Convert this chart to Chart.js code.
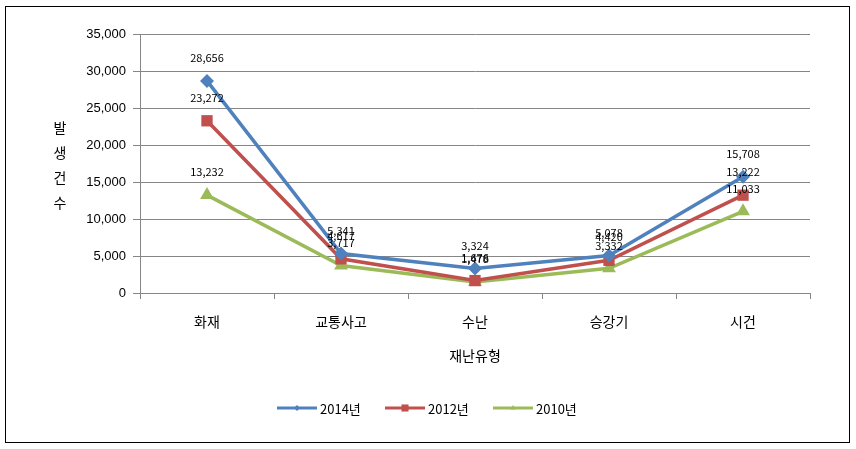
<!DOCTYPE html>
<html lang="ko">
<head>
<meta charset="UTF-8">
<title>재난유형별 발생건수</title>
<script src="https://cdn.jsdelivr.net/npm/chart.js"></script>
<style>
  body { margin: 0; background: #fff; }
  #wrap { position: relative; width: 856px; height: 449px; }
</style>
</head>
<body>
<div id="wrap"><canvas id="disasterChart" width="856" height="449"></canvas></div>
<script>
// categories and series values
const categories = ['화재', '교통사고', '수난', '승강기', '시건'];
const seriesLabels = ['2014년', '2012년', '2010년'];
const values2014 = [28656, 5341, 3324, 5078, 15708];
const values2012 = [23272, 4617, 1676, 4420, 13222];
const values2010 = [13232, 3717, 1478, 3332, 11033];
const yTicks = [0, 5000, 10000, 15000, 20000, 25000, 30000, 35000];
const xTitle = '재난유형';
const yTitle = ['발', '생', '건', '수'];

const KR = '"Noto Sans CJK KR", "Noto Sans", sans-serif';
const fmt = v => v.toLocaleString('en-US');

// frame, axis titles, data labels and the legend drawn on the canvas
const extras = {
  id: 'extras',
  beforeDraw(chart) {
    const ctx = chart.ctx;
    ctx.save();
    ctx.fillStyle = '#fff';
    ctx.fillRect(0, 0, chart.width, chart.height);
    ctx.strokeStyle = '#000';
    ctx.lineWidth = 1;
    ctx.strokeRect(5.5, 6.5, 844, 436);
    ctx.restore();
  },
  afterDatasetsDraw(chart) {
    const ctx = chart.ctx;
    const area = chart.chartArea;
    ctx.save();
    ctx.fillStyle = '#000';
    // data labels
    ctx.font = '11px ' + KR;
    ctx.textAlign = 'center';
    ctx.textBaseline = 'middle';
    chart.data.datasets.forEach((ds, i) => {
      chart.getDatasetMeta(i).data.forEach((pt, j) => {
        ctx.fillText(fmt(ds.data[j]), pt.x, pt.y - 23);
      });
    });
    // y title, stacked
    ctx.font = '14px ' + KR;
    yTitle.forEach((ch, k) => ctx.fillText(ch, 60, 128 + k * 25));
    // x title
    ctx.fillText(xTitle, (area.left + area.right) / 2, 356);
    // legend
    ctx.font = '13px ' + KR;
    ctx.textAlign = 'left';
    const styles = ['rectRot', 'rect', 'triangle'];
    let x = 277;
    chart.data.datasets.forEach((ds, i) => {
      const y = 408;
      ctx.strokeStyle = ds.borderColor;
      ctx.lineWidth = 3;
      ctx.beginPath();
      ctx.moveTo(x, y);
      ctx.lineTo(x + 40, y);
      ctx.stroke();
      ctx.fillStyle = ds.borderColor;
      Chart.helpers.drawPoint(ctx, {
        pointStyle: styles[i], radius: i === 1 ? 5 : 3, borderWidth: 0, rotation: 0
      }, x + 20, y);
      ctx.fillStyle = '#000';
      ctx.fillText(ds.label, x + 43, y + 1);
      x += 108;
    });
    ctx.restore();
  }
};

function series(label, data, color, style, radius) {
  return {
    label: label,
    data: data,
    borderColor: color,
    backgroundColor: color,
    borderWidth: 3.5,
    pointStyle: style,
    pointRadius: radius,
    pointHoverRadius: radius,
    pointBorderWidth: 0,
    tension: 0
  };
}

new Chart(document.getElementById('disasterChart'), {
  type: 'line',
  data: {
    labels: categories,
    datasets: [
      series(seriesLabels[0], values2014, '#4F81BD', 'rectRot', 7),
      series(seriesLabels[1], values2012, '#C0504D', 'rect', 8),
      series(seriesLabels[2], values2010, '#9BBB59', 'triangle', 8)
    ]
  },
  options: {
    responsive: false,
    animation: false,
    devicePixelRatio: 1,
    layout: { padding: { left: 0, right: 46, top: 34, bottom: 0 } },
    plugins: {
      legend: { display: false },
      tooltip: { enabled: false }
    },
    scales: {
      x: {
        offset: true,
        grid: { offset: true, drawOnChartArea: false, drawTicks: true, tickLength: 6, color: '#868686' },
        border: { color: '#868686', width: 1 },
        ticks: { color: '#000', font: { size: 14, family: KR }, padding: 14 },
        afterFit(scale) { scale.height = 156; }
      },
      y: {
        min: 0,
        max: 35000,
        afterBuildTicks(scale) { scale.ticks = yTicks.map(v => ({ value: v })); },
        grid: { color: '#868686', tickLength: 7 },
        border: { color: '#868686', width: 1 },
        ticks: {
          color: '#000',
          font: { size: 13, family: '"Liberation Sans", Arial, sans-serif' },
          padding: 7,
          callback: v => fmt(v)
        },
        afterFit(scale) { scale.width = 140; }
      }
    }
  },
  plugins: [extras]
});
</script>
</body>
</html>
